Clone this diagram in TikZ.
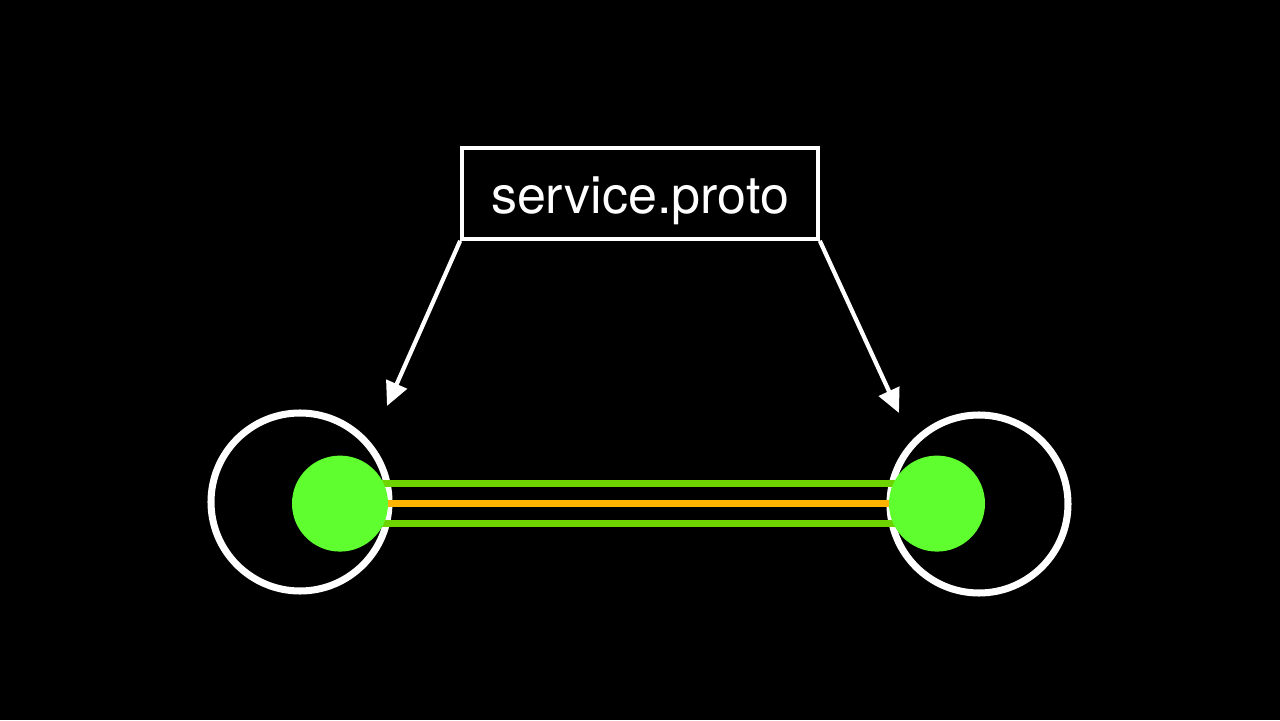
\documentclass[tikz,border=0pt]{standalone}
\usepackage{fontspec}
\setmainfont{TeX Gyre Heros}
\usetikzlibrary{arrows.meta}
\definecolor{nodegreen}{HTML}{5FFF2F}
\definecolor{wiregreen}{HTML}{6ED400}
\definecolor{wireorange}{HTML}{FFB400}

\begin{document}
\begin{tikzpicture}[
	ring/.style={circle, draw=white, line width=5pt, minimum size=4.45cm, inner sep=0pt},
	stub/.style={circle, fill=nodegreen, minimum size=2.4cm, inner sep=0pt},
	wire/.style={line width=4.6pt},
	protofile/.style={draw=white, line width=2.6pt, text=white, minimum width=8.9cm, minimum height=2.275cm, inner sep=0pt, font=\fontsize{37}{40}\selectfont},
	pointer/.style={draw=white, line width=3pt, -{Triangle[length=0.6cm, width=0.55cm]}}
]
	\fill[black] (0,0) rectangle (32,18);
	\useasboundingbox (0,0) rectangle (32,18);

	\node[ring] (client) at (7.5,5.45) {};
	\node[ring] (server) at (24.475,5.4) {};

	\coordinate (clientstub) at (8.5,5.41);
	\coordinate (serverstub) at (23.425,5.41);

	\draw[wire, wiregreen] ([yshift=0.5cm]clientstub) -- ([yshift=0.5cm]serverstub);
	\draw[wire, wireorange] (clientstub) -- (serverstub);
	\draw[wire, wiregreen] ([yshift=-0.5cm]clientstub) -- ([yshift=-0.5cm]serverstub);

	\node[stub] (cstub) at (clientstub) {};
	\node[stub] (sstub) at (serverstub) {};

	\node[protofile] (proto) at (16,13.1625) {\raisebox{-0.17cm}[\height][\depth]{service.proto}};

	\coordinate (clienttip) at (9.675,7.85);
	\coordinate (servertip) at (22.475,7.675);
	\draw[pointer] (proto.south west) -- (clienttip);
	\draw[pointer] (proto.south east) -- (servertip);
\end{tikzpicture}
\end{document}
